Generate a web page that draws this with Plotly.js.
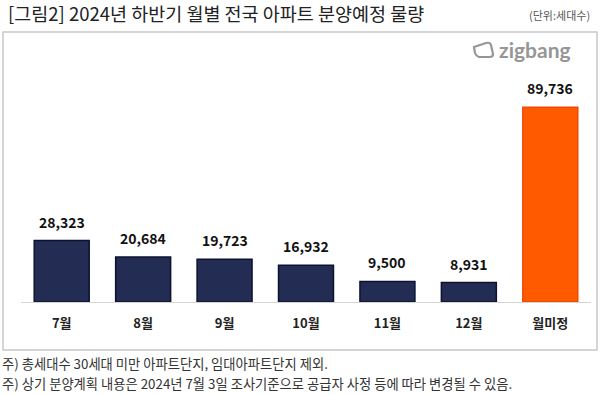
<!DOCTYPE html>
<html>
<head>
<meta charset="utf-8">
<script src="https://cdn.plot.ly/plotly-3.0.1.min.js"></script>
<style>
html,body{margin:0;padding:0;background:#fff;}
#chart{width:600px;height:395px;}
</style>
</head>
<body>
<div id="chart"></div>
<script>
const categories = ['7월', '8월', '9월', '10월', '11월', '12월', '월미정'];
const values = [28323, 20684, 19723, 16932, 9500, 8931, 89736];
const valueLabels = ['28,323', '20,684', '19,723', '16,932', '9,500', '8,931', '89,736'];
const titleText = '[그림2] 2024년 하반기 월별 전국 아파트 분양예정 물량';
const unitText = '(단위:세대수)';
const notes = ['주) 총세대수 30세대 미만 아파트단지, 임대아파트단지 제외.',
               '주) 상기 분양계획 내용은 2024년 7월 3일 조사기준으로 공급자 사정 등에 따라 변경될 수 있음.'];

const W = 600, H = 395;
const M = {l: 21, r: 9, t: 85, b: 93};
const PW = W - M.l - M.r, PH = H - M.t - M.b;
const px = x => (x - M.l) / PW;
const py = y => (H - M.b - y) / PH;

const KR = '"Noto Sans CJK KR", "Noto Sans", sans-serif';

const barColors = categories.map((c, i) => i === categories.length - 1 ? '#ff5a00' : '#232c52');
const lineColors = categories.map((c, i) => i === categories.length - 1 ? '#f04a00' : '#0c1232');

const trace = {
  type: 'bar',
  x: categories,
  y: values,
  width: 0.675,
  marker: {color: barColors, line: {color: lineColors, width: 1.5}},
  hoverinfo: 'none'
};

const annotations = categories.map((c, i) => ({
  x: c, y: values[i], xref: 'x', yref: 'y',
  text: '<b>' + valueLabels[i] + '</b>',
  showarrow: false, yanchor: 'bottom', yshift: 7,
  font: {family: KR, size: 14, color: '#111'}
}));

annotations.push({
  xref: 'paper', yref: 'paper', x: px(592), y: py(15),
  xanchor: 'right', yanchor: 'middle', showarrow: false,
  text: unitText, font: {family: KR, size: 11, color: '#555'}
});
notes.forEach((n, i) => annotations.push({
  xref: 'paper', yref: 'paper', x: px(0), y: py(363.5 + i * 20),
  xanchor: 'left', yanchor: 'middle', showarrow: false,
  text: n, font: {family: KR, size: 13.3, color: '#333'}
}));
annotations.push({
  xref: 'paper', yref: 'paper', x: px(497), y: py(50),
  xanchor: 'left', yanchor: 'middle', showarrow: false,
  text: '<b>zigbang</b>', font: {family: 'Lato, "Open Sans", sans-serif', size: 21, color: '#969696'}
});

const shapes = [
  {type: 'rect', xref: 'paper', yref: 'paper', x0: px(3), x1: px(597), y0: py(350), y1: py(32),
   line: {color: '#c8c8c8', width: 1.5}, fillcolor: 'rgba(0,0,0,0)', layer: 'below'},
  {type: 'path', xref: 'paper', yref: 'paper',
   path: 'M' + px(474) + ',' + py(47) + ' L' + px(486) + ',' + py(43) + ' Q' + px(490) + ',' + py(42) + ' ' + px(491) + ',' + py(45) +
         ' L' + px(493) + ',' + py(54) + ' Q' + px(493) + ',' + py(57) + ' ' + px(490) + ',' + py(57) +
         ' L' + px(479) + ',' + py(57) + ' Q' + px(476) + ',' + py(56) + ' ' + px(475) + ',' + py(53) + ' Z',
   line: {color: '#969696', width: 2.2}, fillcolor: 'rgba(0,0,0,0)'}
];

const layout = {
  width: W, height: H,
  margin: M,
  paper_bgcolor: '#fff', plot_bgcolor: '#fff',
  showlegend: false,
  title: {text: titleText, x: 8 / W, xanchor: 'left', xref: 'container',
          y: 1 - 15 / H, yanchor: 'middle', yref: 'container',
          font: {family: KR, size: 18.5, color: '#222'}},
  xaxis: {type: 'category', range: [-0.5, 6.5], showline: true, linecolor: '#d4d4d4', linewidth: 1,
          showgrid: false, zeroline: false, ticks: '', ticklabelstandoff: 9,
          tickfont: {family: KR, size: 13, color: '#222', weight: 'bold'}, fixedrange: true},
  yaxis: {range: [0, 100000], visible: false, showgrid: false, zeroline: false, fixedrange: true},
  annotations: annotations,
  shapes: shapes
};

Plotly.newPlot('chart', [trace], layout, {displayModeBar: false, staticPlot: true});
</script>
</body>
</html>
